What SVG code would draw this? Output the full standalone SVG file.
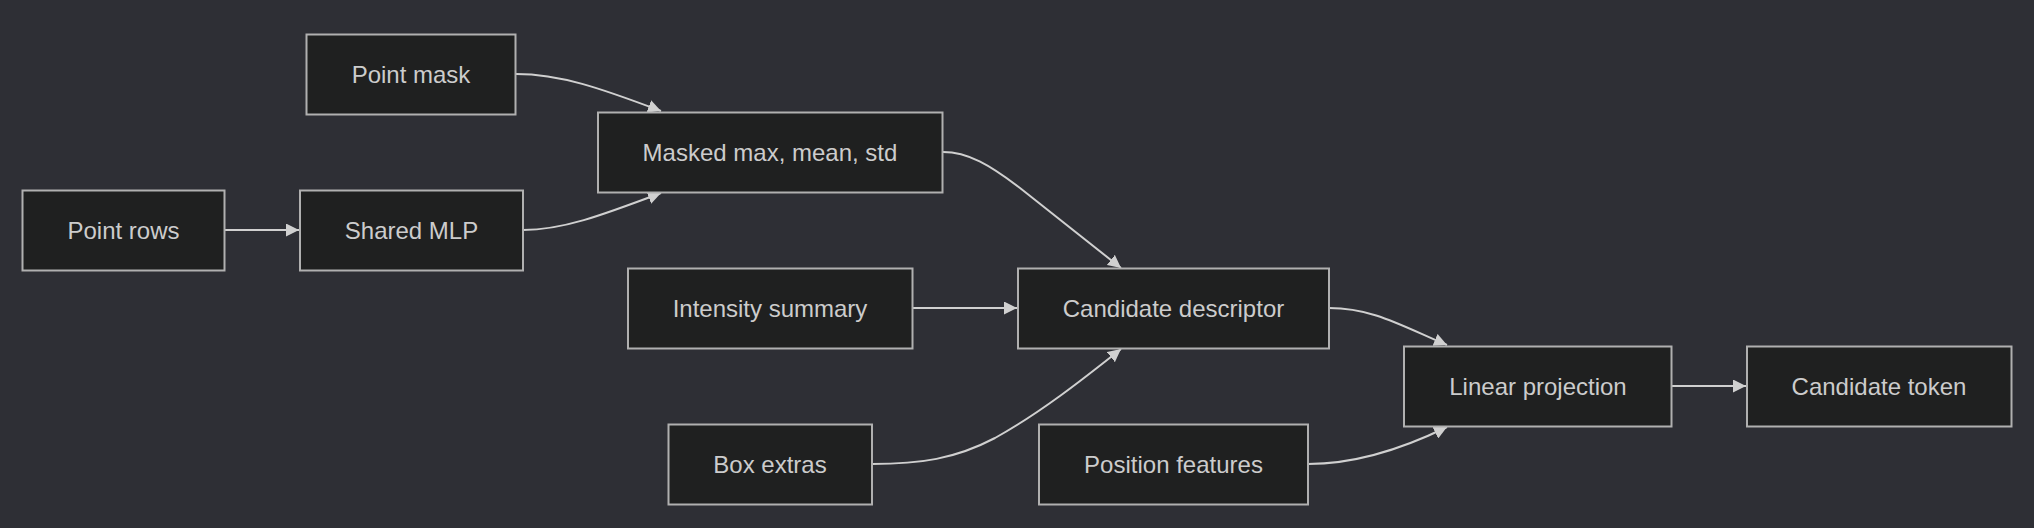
<svg xmlns="http://www.w3.org/2000/svg" width="2034" height="528" viewBox="0 0 2034 528">
<style>
.node rect{fill:#1f2020;stroke:#b0b0b0;stroke-width:2}
.node text{font-family:"Liberation Sans",Arial,sans-serif;font-size:24px;fill:#cccccc;text-anchor:middle;dominant-baseline:central}
.edges path{fill:none;stroke:#d0d0d0;stroke-width:2}
</style>
<defs>
<marker id="arrow" viewBox="0 0 10 10" refX="10" refY="5" markerWidth="13" markerHeight="13" markerUnits="userSpaceOnUse" orient="auto" preserveAspectRatio="none">
<path d="M0,0 L10,5 L0,10 z" fill="#d0d0d0"/>
</marker>
</defs>
<rect x="0" y="0" width="2034" height="528" fill="#2e2f35"/>
<g class="edges">
<path d="M224,230 L299,230" marker-end="url(#arrow)"/>
<path d="M516,74 C560,74 600,88 661,111" marker-end="url(#arrow)"/>
<path d="M523,230 C562,230 600,216 661,193" marker-end="url(#arrow)"/>
<path d="M943,152 C968,152 990,165 1020,188 L1121,268" marker-end="url(#arrow)"/>
<path d="M913,308 L1017,308" marker-end="url(#arrow)"/>
<path d="M872,464 C920,464 955,459 995,438 C1040,413 1082,380 1121,349" marker-end="url(#arrow)"/>
<path d="M1329,308 C1372,308 1400,325 1447,345" marker-end="url(#arrow)"/>
<path d="M1308,464 C1352,464 1400,450 1447,427" marker-end="url(#arrow)"/>
<path d="M1672,386 L1746,386" marker-end="url(#arrow)"/>
</g>
<g id="point-mask" class="node"><rect x="306.5" y="34.5" width="209" height="80"/><text x="411" y="74.5">Point mask</text></g>
<g id="masked-stats" class="node"><rect x="598" y="112.5" width="344.5" height="80"/><text x="770" y="152.5">Masked max, mean, std</text></g>
<g id="point-rows" class="node"><rect x="22.5" y="190.5" width="202" height="80"/><text x="123.5" y="230.5">Point rows</text></g>
<g id="shared-mlp" class="node"><rect x="300" y="190.5" width="223" height="80"/><text x="411.5" y="230.5">Shared MLP</text></g>
<g id="intensity-summary" class="node"><rect x="628" y="268.5" width="284.5" height="80"/><text x="770" y="308.5">Intensity summary</text></g>
<g id="candidate-descriptor" class="node"><rect x="1018" y="268.5" width="311" height="80"/><text x="1173.5" y="308.5">Candidate descriptor</text></g>
<g id="linear-projection" class="node"><rect x="1404" y="346.5" width="267.5" height="80"/><text x="1538" y="386.5">Linear projection</text></g>
<g id="candidate-token" class="node"><rect x="1747" y="346.5" width="264.5" height="80"/><text x="1879" y="386.5">Candidate token</text></g>
<g id="box-extras" class="node"><rect x="668.5" y="424.5" width="203.5" height="80"/><text x="770" y="464.5">Box extras</text></g>
<g id="position-features" class="node"><rect x="1039" y="424.5" width="269" height="80"/><text x="1173.5" y="464.5">Position features</text></g>
</svg>
